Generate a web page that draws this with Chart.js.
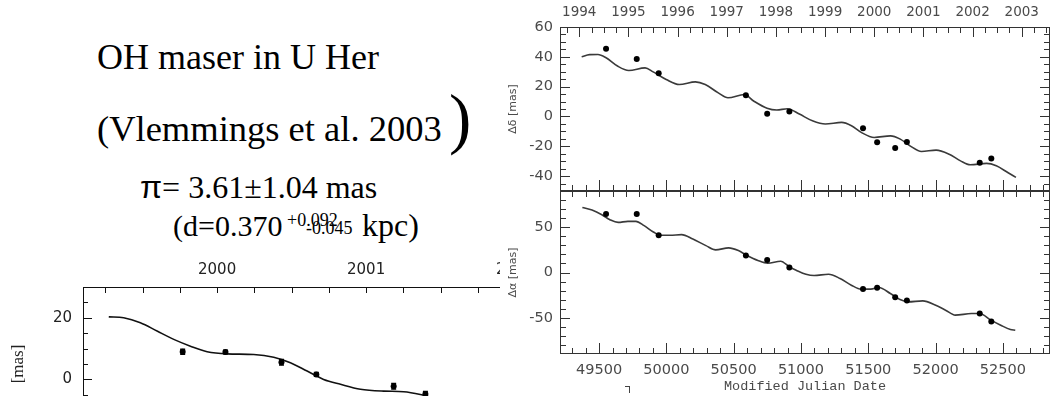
<!DOCTYPE html>
<html>
<head>
<meta charset="utf-8">
<script src="https://cdn.jsdelivr.net/npm/chart.js@4.4.0/dist/chart.umd.min.js"></script>
<style>
    html, body { margin: 0; padding: 0; background: #fff; }
    body { width: 1056px; height: 396px; position: relative; overflow: hidden; }
    .slide { position: absolute; font-family: "Liberation Serif", "Times New Roman", serif; color: #000; white-space: nowrap; }
    .sans { font-family: "Liberation Sans", Arial, sans-serif; }
    #t1 { left: 97px; top: 39px; font-size: 36px; line-height: 36px; }
    #t2 { left: 97px; top: 111px; font-size: 36.5px; line-height: 36px; }
    #t2p { left: 449px; top: 85px; font-size: 67px; line-height: 67px; }
    #t3 { left: 140px; top: 171px; font-size: 32px; line-height: 32px; }
    #t4 { left: 173px; top: 211px; font-size: 30px; line-height: 30px; }
    #t4sup { left: 287px; top: 211px; font-size: 18px; line-height: 18px; }
    #t4sub { left: 306px; top: 219px; font-size: 18px; line-height: 18px; }
    #t4end { left: 362px; top: 210px; font-size: 32px; line-height: 30px; }
    #insetWrap { position: absolute; left: 0; top: 250px; width: 540px; height: 146px; overflow: hidden; }
    #decWrap { position: absolute; left: 500px; top: 0; width: 556px; height: 192px; background: #fff; }
    #raWrap { position: absolute; left: 500px; top: 191px; width: 556px; height: 205px; background: #fff; }
    #corner { position: absolute; left: 625px; top: 386px; width: 4px; height: 6px; border-top: 1px solid #444; border-right: 1px solid #444; }
    canvas { display: block; }
</style>
</head>
<body>

<div class="slide" id="t1">OH maser in U Her</div>
<div class="slide" id="t2">(Vlemmings et al. 2003</div>
<div class="slide" id="t2p">)</div>
<div class="slide" id="t3"><span class="sans">π</span>= 3.61±1.04 mas</div>
<div class="slide" id="t4">(d=0.370</div>
<div class="slide" id="t4sup">+0.092</div>
<div class="slide" id="t4sub">-0.045</div>
<div class="slide" id="t4end">kpc)</div>

<div id="insetWrap"><canvas id="insetChart" width="540" height="200"></canvas></div>
<div id="decWrap"><canvas id="decChart" width="556" height="192"></canvas></div>
<div id="raWrap"><canvas id="raChart" width="556" height="205"></canvas></div>
<div id="corner"></div>

<script>
// --- values ---
const mjdMin = 49210;
const mjdMax = 52850;
const yearTicks = [1994, 1995, 1996, 1997, 1998, 1999, 2000, 2001, 2002, 2003];
const mjdTicks = [49500, 50000, 50500, 51000, 51500, 52000, 52500];
const decTicks = [-40, -20, 0, 20, 40, 60];
const raTicks = [-50, 0, 50];

const obsMjd = [49552, 49780, 49943, 50591, 50749, 50914, 51461, 51566, 51700, 51787, 52328, 52414];
const obsDec = [45.4, 38.5, 29.0, 14.3, 1.8, 3.4, -7.9, -17.3, -21.2, -17.2, -31.1, -28.2];
const obsRa = [64.5, 64.5, 41.1, 18.9, 13.8, 5.5, -18.3, -16.8, -27.4, -31.0, -45.3, -54.0];

const fitDecMjd = [49371, 49430, 49492, 49552, 49637, 49721, 49842, 49902, 49999, 50096, 50216, 50289,
    50386, 50458, 50579, 50651, 50748, 50820, 50900, 50988, 51085, 51181, 51302, 51375, 51448, 51544,
    51665, 51738, 51810, 51895, 52004, 52101, 52185, 52258, 52379, 52451, 52536, 52597];
const fitDec = [40.0, 41.5, 41.6, 39.4, 33.8, 30.8, 32.6, 29.9, 24.8, 21.4, 23.2, 21.4,
    15.8, 12.5, 14.7, 10.2, 5.5, 4.3, 5.2, 1.6, -2.9, -5.1, -4.0, -6.2, -10.7, -14.1,
    -13.0, -15.2, -19.7, -23.5, -22.6, -25.3, -29.8, -32.4, -31.5, -33.1, -37.6, -40.9];

const fitRaMjd = [49376, 49448, 49521, 49581, 49642, 49714, 49774, 49835, 49907, 49956, 50028, 50113,
    50197, 50294, 50366, 50463, 50535, 50596, 50680, 50753, 50849, 50916, 50964, 51037, 51097, 51205,
    51290, 51374, 51447, 51519, 51579, 51664, 51736, 51796, 51905, 52001, 52074, 52146, 52267, 52327,
    52411, 52484, 52556, 52592];
const fitRa = [71.8, 68.9, 63.8, 58.3, 55.3, 56.5, 56.5, 51.7, 44.4, 41.1, 41.1, 41.8,
    37.0, 29.7, 25.0, 27.2, 24.2, 19.1, 13.3, 10.3, 12.5, 6.0, 2.6, -1.9, -3.3, -1.9,
    -6.6, -14.0, -18.4, -18.4, -16.6, -23.2, -29.8, -32.4, -31.3, -36.1, -41.6, -47.1, -45.3, -45.3,
    -52.6, -58.2, -63.0, -63.7];

// bottom-left inset
const insetYearTicks = [2000, 2001, 2002];
const insetPosTicks = [0, 20];
const insetObsYear = [1999.769, 2000.056, 2000.432, 2000.666, 2001.185, 2001.398];
const insetObsPos = [9.0, 8.9, 5.6, 1.6, -2.2, -4.7];
const insetObsErr = [0.8, 0.6, 0.9, 0.6, 0.9, 0.8];
const insetFitYear = [1999.273, 1999.373, 1999.485, 1999.597, 1999.709, 1999.821, 1999.933, 2000.067,
    2000.246, 2000.380, 2000.492, 2000.604, 2000.715, 2000.828, 2000.962, 2001.118, 2001.252, 2001.364, 2001.45];
const insetFitPos = [20.3, 20.0, 18.4, 15.7, 13.0, 10.8, 9.0, 8.3,
    8.1, 7.2, 5.4, 2.7, 0.0, -1.6, -3.2, -3.8, -4.0, -4.9, -6.0];

// --- helpers ---
const mjdOfYear = y => 49353 + (y - 1994) * 365.25;
const yearOfMjd = m => 1994 + (m - 49353) / 365.25;
const pairs = (xs, ys) => xs.map((x, i) => ({ x: x, y: ys[i] }));
function steps(lo, hi, step) {
    const out = [];
    for (let v = Math.ceil(lo / step - 1e-9) * step; v <= hi + 1e-9; v += step) out.push(+v.toFixed(6));
    return out;
}
// stop Chart.js from reserving room for half tick labels at the plot edges
function fixWidth(w) {
    return s => { s.width = w; s.paddingTop = 0; s.paddingBottom = 0; };
}
function fixHeight(h) {
    return s => { s.height = h; s.paddingLeft = 0; s.paddingRight = 0; };
}

Chart.defaults.font.family = '"DejaVu Sans", sans-serif';
Chart.defaults.color = '#4a4a4a';

// inward tick marks for each canvas, keyed by canvas id
const quarterYearsMjd = steps(1993.5, 2003.75, 0.25).map(mjdOfYear);
const wholeYearsMjd = yearTicks.map(mjdOfYear);
const tickMarks = {
    decChart: { color: '#333', marks: [
        ['xTop', 'top', quarterYearsMjd, 6],
        ['xTop', 'top', wholeYearsMjd, 10],
        ['x', 'bottom', steps(mjdMin, mjdMax, 100), 6],
        ['x', 'bottom', mjdTicks, 11],
        ['y', 'left', steps(-50, 60, 5), 6],
        ['y', 'left', decTicks, 10],
        ['y', 'right', steps(-50, 60, 5), 6],
        ['y', 'right', decTicks, 10]
    ] },
    raChart: { color: '#333', marks: [
        ['x', 'top', steps(mjdMin, mjdMax, 100), 6],
        ['x', 'bottom', steps(mjdMin, mjdMax, 100), 6],
        ['x', 'bottom', mjdTicks, 11],
        ['y', 'left', steps(-90, 90, 10), 6],
        ['y', 'left', raTicks, 10],
        ['y', 'right', steps(-90, 90, 10), 6],
        ['y', 'right', raTicks, 10]
    ] },
    insetChart: { color: '#111', marks: [
        ['xTop', 'top', steps(1999.1, 2002.1, 0.25), 6],
        ['y', 'left', steps(-20, 30, 5), 5],
        ['y', 'left', insetPosTicks, 9]
    ] }
};

// frame plus inward ticks, drawn as 1px filled rectangles
const frameTicks = {
    id: 'frameTicks',
    afterDraw(chart) {
        const cfg = tickMarks[chart.canvas.id];
        const { ctx, chartArea: a } = chart;
        const L = Math.round(a.left), R = Math.round(a.right) - 1;
        const T = Math.round(a.top), B = Math.round(a.bottom) - 1;
        ctx.save();
        ctx.fillStyle = cfg.color;
        ctx.fillRect(L, T, R - L + 1, 1);
        ctx.fillRect(L, B, R - L + 1, 1);
        ctx.fillRect(L, T, 1, B - T + 1);
        ctx.fillRect(R, T, 1, B - T + 1);
        for (const [id, side, values, len] of cfg.marks) {
            const sc = chart.scales[id];
            for (const v of values) {
                const p = Math.round(sc.getPixelForValue(v));
                if (side === 'top' || side === 'bottom') {
                    if (p < L || p > R) continue;
                    ctx.fillRect(p, side === 'top' ? T : B - len + 1, 1, len);
                } else {
                    if (p < T || p > B) continue;
                    ctx.fillRect(side === 'left' ? L : R - len + 1, p, len, 1);
                }
            }
        }
        ctx.restore();
    }
};

const errorBars = {
    id: 'errorBars',
    afterDatasetsDraw(chart) {
        const { ctx } = chart;
        chart.data.datasets.forEach((ds, i) => {
            if (!ds.errors) return;
            const meta = chart.getDatasetMeta(i);
            const ys = chart.scales[meta.yAxisID];
            ctx.save();
            ctx.strokeStyle = '#000';
            ctx.lineWidth = 1.5;
            ctx.beginPath();
            meta.data.forEach((pt, j) => {
                const v = ds.data[j].y, e = ds.errors[j];
                const y1 = ys.getPixelForValue(v + e), y2 = ys.getPixelForValue(v - e);
                ctx.moveTo(pt.x, y1); ctx.lineTo(pt.x, y2);
                ctx.moveTo(pt.x - 2.5, y1); ctx.lineTo(pt.x + 2.5, y1);
                ctx.moveTo(pt.x - 2.5, y2); ctx.lineTo(pt.x + 2.5, y2);
            });
            ctx.stroke();
            ctx.restore();
        });
    }
};

function fitLine(data, color) {
    return {
        type: 'line', data: data, borderColor: color, borderWidth: 1.6,
        pointRadius: 0, fill: false, cubicInterpolationMode: 'monotone', order: 2
    };
}
function obsPoints(data, r) {
    return {
        type: 'line', data: data, showLine: false, pointRadius: r, pointHoverRadius: r,
        pointStyle: 'circle', pointBackgroundColor: '#000', pointBorderWidth: 0, order: 1
    };
}

const commonOpts = {
    responsive: false,
    animation: false,
    devicePixelRatio: 1,
    events: [],
    plugins: { legend: { display: false }, tooltip: { enabled: false } }
};

// --- top right panel: declination offset ---
new Chart(document.getElementById('decChart'), {
    type: 'line',
    data: { datasets: [fitLine(pairs(fitDecMjd, fitDec), '#3a3a3a'), obsPoints(pairs(obsMjd, obsDec), 3)] },
    options: {
        ...commonOpts,
        layout: { autoPadding: false, padding: { top: 0, right: 6, bottom: 1, left: 0 } },
        scales: {
            x: { type: 'linear', min: mjdMin, max: mjdMax, display: false },
            xTop: {
                type: 'linear', position: 'top', min: mjdMin, max: mjdMax,
                grid: { display: false, drawTicks: false }, border: { display: false },
                afterBuildTicks: s => { s.ticks = wholeYearsMjd.map(v => ({ value: v })); },
                ticks: { autoSkip: false, maxRotation: 0, padding: 6, font: { size: 13.5 },
                    callback: v => String(Math.round(yearOfMjd(v))) },
                afterFit: fixHeight(27)
            },
            y: {
                min: -50, max: 60, position: 'left',
                grid: { display: false, drawTicks: false }, border: { display: false },
                afterBuildTicks: s => { s.ticks = decTicks.map(v => ({ value: v })); },
                ticks: { padding: 7, font: { size: 14.5 } },
                title: { display: true, text: 'Δδ [mas]', font: { size: 11 }, padding: { top: 7, bottom: 0 } },
                afterFit: fixWidth(60)
            }
        }
    },
    plugins: [frameTicks]
});

// --- bottom right panel: right ascension offset ---
new Chart(document.getElementById('raChart'), {
    type: 'line',
    data: { datasets: [fitLine(pairs(fitRaMjd, fitRa), '#3a3a3a'), obsPoints(pairs(obsMjd, obsRa), 3)] },
    options: {
        ...commonOpts,
        layout: { autoPadding: false, padding: { top: 0, right: 6, bottom: 0, left: 0 } },
        scales: {
            x: {
                type: 'linear', position: 'bottom', min: mjdMin, max: mjdMax,
                grid: { display: false, drawTicks: false }, border: { display: false },
                afterBuildTicks: s => { s.ticks = mjdTicks.map(v => ({ value: v })); },
                ticks: { autoSkip: false, maxRotation: 0, padding: 8, font: { size: 14.5 },
                    callback: v => String(v) },
                title: { display: true, text: 'Modified Julian Date', padding: { top: 0, bottom: 1 },
                    font: { family: '"Liberation Mono", monospace', size: 13.5 } },
                afterFit: fixHeight(42)
            },
            y: {
                min: -90, max: 90, position: 'left',
                grid: { display: false, drawTicks: false }, border: { display: false },
                afterBuildTicks: s => { s.ticks = raTicks.map(v => ({ value: v })); },
                ticks: { padding: 7, font: { size: 14.5 } },
                title: { display: true, text: 'Δα [mas]', font: { size: 11 }, padding: { top: 7, bottom: 0 } },
                afterFit: fixWidth(60)
            }
        }
    },
    plugins: [frameTicks]
});

// --- bottom left inset (partially visible) ---
new Chart(document.getElementById('insetChart'), {
    type: 'line',
    data: {
        datasets: [
            fitLine(pairs(insetFitYear, insetFitPos), '#111'),
            Object.assign(obsPoints(pairs(insetObsYear, insetObsPos), 3), { errors: insetObsErr })
        ]
    },
    options: {
        ...commonOpts,
        layout: { autoPadding: false, padding: { top: 0, right: 10, bottom: 9, left: 0 } },
        scales: {
            x: { type: 'linear', min: 1999.1, max: 2002.1, display: false },
            xTop: {
                type: 'linear', position: 'top', min: 1999.1, max: 2002.1,
                grid: { display: false, drawTicks: false }, border: { display: false },
                afterBuildTicks: s => { s.ticks = insetYearTicks.map(v => ({ value: v })); },
                ticks: { autoSkip: false, maxRotation: 0, padding: 8, color: '#222', font: { size: 15 },
                    callback: v => String(v) },
                afterFit: fixHeight(37)
            },
            y: {
                min: -20, max: 30, position: 'left',
                grid: { display: false, drawTicks: false }, border: { display: false },
                afterBuildTicks: s => { s.ticks = insetPosTicks.map(v => ({ value: v })); },
                ticks: { padding: 11, color: '#222', font: { size: 15 } },
                title: { display: true, text: '[mas]', color: '#222', padding: { top: 8, bottom: 0 },
                    font: { family: '"Liberation Serif", serif', size: 17 } },
                afterFit: fixWidth(83)
            }
        }
    },
    plugins: [frameTicks, errorBars]
});
</script>
</body>
</html>
